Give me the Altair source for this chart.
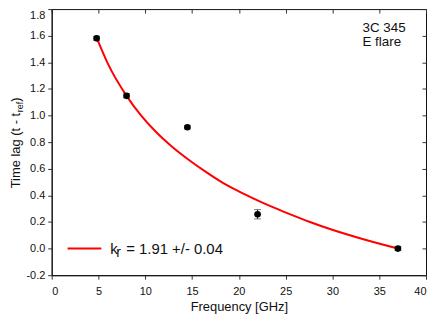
import altair as alt
import pandas as pd

# measured data
freq = [4.8, 8.0, 14.5, 22.0, 37.0]
lag = [1.58, 1.148, 0.912, 0.258, 0.0]
err = [0.015, 0.015, 0.012, 0.035, 0.015]

# fitted curve
fit_freq = [4.8, 6.0, 8.0, 9.5, 11.1, 12.8, 14.6, 16.4, 18.2, 20.0, 21.7, 23.5, 25.3, 27.6, 29.9, 33.4, 37.0]
fit_lag = [1.585, 1.39, 1.148, 1.005, 0.88, 0.77, 0.67, 0.58, 0.498, 0.43, 0.372, 0.315, 0.263, 0.2, 0.143, 0.068, 0.0]

x_ticks = [0, 5, 10, 15, 20, 25, 30, 35, 40]
y_ticks = [-0.2, 0.0, 0.2, 0.4, 0.6, 0.8, 1.0, 1.2, 1.4, 1.6, 1.8]

W, H = 377, 268
FONT = "Liberation Sans"

pts = pd.DataFrame({"f": freq, "t": lag, "lo": [a - e for a, e in zip(lag, err)],
                    "hi": [a + e for a, e in zip(lag, err)]})
fit = pd.DataFrame({"f": fit_freq, "t": fit_lag})
one = pd.DataFrame({"a": [0]})

xs = alt.Scale(domain=[0, 40], nice=False, zero=False)
ys = alt.Scale(domain=[-0.2, 1.8], nice=False, zero=False)

curve = alt.Chart(fit).mark_line(color="#ff0000", strokeWidth=2, interpolate="monotone").encode(
    x=alt.X("f:Q", scale=xs, axis=alt.Axis(values=x_ticks, title=None, tickSize=4, labelPadding=6,
                                          labelFontSize=11, labelColor="#111", domainColor="#111",
                                          tickColor="#333", labelFont=FONT)),
    y=alt.Y("t:Q", scale=ys, axis=alt.Axis(values=y_ticks, title=None, tickSize=4, labelPadding=3,
                                          labelFontSize=11, labelColor="#111", domainColor="#111",
                                          tickColor="#333", labelFont=FONT,
                                          labelExpr="(datum.value < -0.01 ? '-' : '') + format(abs(datum.value), '.1f')",
                                          labelBaseline={"condition": {"test": "datum.value > 1.79", "value": "top"},
                                                         "value": "middle"})),
)

bars = alt.Chart(pts).mark_rule(color="#222", strokeWidth=1).encode(
    x=alt.X("f:Q", scale=xs, axis=None),
    y=alt.Y("lo:Q", scale=ys, axis=None),
    y2="hi:Q",
)
cap_lo = alt.Chart(pts).mark_tick(color="#444", orient="horizontal", size=7, thickness=1).encode(
    x=alt.X("f:Q", scale=xs, axis=None), y=alt.Y("lo:Q", scale=ys, axis=None))
cap_hi = alt.Chart(pts).mark_tick(color="#444", orient="horizontal", size=7, thickness=1).encode(
    x=alt.X("f:Q", scale=xs, axis=None), y=alt.Y("hi:Q", scale=ys, axis=None))

points = alt.Chart(pts).mark_circle(color="black", size=45, opacity=1).encode(
    x=alt.X("f:Q", scale=xs, axis=None),
    y=alt.Y("t:Q", scale=ys, axis=None),
)

frame = alt.Chart(pts).mark_point(opacity=0).encode(
    x=alt.X("f:Q", scale=xs, axis=alt.Axis(orient="bottom", offset=-H, labels=False, domain=False,
                                          title=None, values=x_ticks, tickSize=4, tickColor="#333")),
    y=alt.Y("t:Q", scale=ys, axis=alt.Axis(orient="left", offset=-W, labels=False, domain=False,
                                          title=None, values=y_ticks, tickSize=4, tickColor="#333")),
)

def txt(s, x, y, size=13, angle=0, align="left", baseline="alphabetic"):
    kw = dict(text=s, fontSize=size, font=FONT, color="#111", align=align, baseline=baseline)
    if angle:
        kw["angle"] = angle
    return alt.Chart(one).mark_text(**kw).encode(x=alt.value(x), y=alt.value(y))

legend_line = alt.Chart(one).mark_rule(color="#ff0000", strokeWidth=2).encode(
    x=alt.value(16), x2=alt.value(50), y=alt.value(241))

annotations = [
    txt("3C 345", 313, 23, size=13.5),
    txt("E flare", 313, 37, size=13.5),
    txt("k", 59, 246.5, size=15),
    txt("r", 65, 249.5, size=14),
    txt("= 1.91 +/- 0.04", 75, 246.5, size=15),
    txt("Frequency [GHz]", 189, 304, align="center"),
    txt("Time lag (t - t", -32, 180.5, angle=270),
    txt("ref", -29, 103.9, size=9, angle=270),
    txt(")", -32, 93.4, angle=270),
]

chart = alt.layer(curve, bars, cap_lo, cap_hi, points, frame, legend_line, *annotations).resolve_axis(
    x="independent", y="independent"
).properties(
    width=W, height=H,
    padding={"left": 44, "top": 0, "right": 2, "bottom": 40},
    autosize=alt.AutoSizeParams(type="none"),
).configure_view(stroke="#111", strokeWidth=1).configure_axis(grid=False)

chart.save("out.html", embed_options={"renderer": "svg", "actions": False})
